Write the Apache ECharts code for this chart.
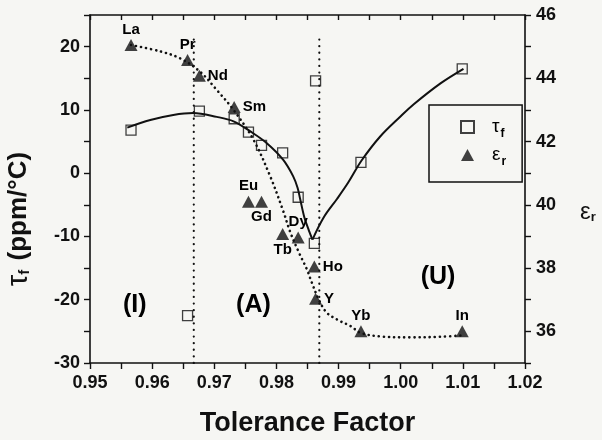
<!DOCTYPE html>
<html>
<head>
<meta charset="utf-8">
<script src="https://cdn.jsdelivr.net/npm/echarts@6/dist/echarts.min.js"></script>
<style>
  html, body { margin: 0; padding: 0; background: #f6f6f3; }
  #chart { width: 602px; height: 440px; }
</style>
</head>
<body>
<div id="chart"></div>
<script>
// A-site ions and their tolerance factors
const ions = ['La', 'Pr', 'Nd', 'Sm', 'Eu', 'Gd', 'Tb', 'Dy', 'Ho', 'Y', 'Yb', 'In'];
const toleranceFactor = [0.9566, 0.9657, 0.9676, 0.9732, 0.9755, 0.9776, 0.9810, 0.9835, 0.9861, 0.9863, 0.9936, 1.0099];
// temperature coefficient of resonant frequency (ppm/°C), left axis
const tauF = [6.8, -22.5, 9.8, 8.6, 6.5, 4.4, 3.2, -3.8, -11.1, 14.6, 1.7, 16.5];
// relative permittivity, right axis
const epsR = [45.05, 44.58, 44.08, 43.09, 40.1, 40.1, 39.08, 38.97, 38.05, 37.03, 36.0, 36.0];

// fitted trend of tau_f (two branches meeting at the cusp)
const tauFitLeftX = [0.9560, 0.9597, 0.9634, 0.9666, 0.9704, 0.9731, 0.9758, 0.9785, 0.9811, 0.9827, 0.9834, 0.9838, 0.9845, 0.9852, 0.9858];
const tauFitLeftY = [7.2, 8.4, 9.2, 9.5, 8.9, 8.2, 6.6, 4.7, 2.1, -0.5, -2.3, -4.0, -7.0, -9.0, -10.5];
const tauFitRightX = [0.9858, 0.9876, 0.9898, 0.9916, 0.9937, 0.9967, 1.0000, 1.0021, 1.0064, 1.0101];
const tauFitRightY = [-10.5, -7.0, -4.0, -1.4, 2.0, 5.8, 9.0, 10.9, 14.2, 16.5];

// fitted trend of epsilon_r
const epsFitX = [0.9566, 0.9613, 0.9645, 0.9677, 0.9704, 0.9731, 0.9763, 0.9790, 0.9811, 0.9822, 0.9836, 0.9849, 0.9857, 0.9868, 0.9881, 0.9900, 0.9919, 0.9936, 0.9967, 1.0015, 1.0064, 1.0097];
const epsFitY = [45.05, 44.85, 44.63, 44.21, 43.63, 43.00, 42.06, 40.9, 39.8, 39.15, 38.5, 37.96, 37.54, 37.01, 36.59, 36.35, 36.17, 35.95, 35.84, 35.81, 35.83, 35.87];

// phase boundaries (dotted verticals) and region names
const boundaryX = [0.9667, 0.9869];
const boundarySpan = [-30, 22];
const regionNames = ['(I)', '(A)', '(U)'];
const regionX = [0.9572, 0.9763, 1.0060];
const regionY = [-20.8, -20.8, -16.5];

// axis tick settings
const xTicks = { min: 0.95, max: 1.02, step: 0.005 };
const tauTicks = { min: -30, max: 25, step: 5 };
const epsTicks = { min: 35, max: 46, step: 1 };

const ink = '#111111';
const font = 'Liberation Sans, Arial, Helvetica, sans-serif';
const labelSide = ['top', 'top', 'right', 'right', 'top', 'bottom', 'bottom', 'top', 'right', 'right', 'top', 'top'];

const zip = (xs, ys) => xs.map((x, i) => [x, ys[i]]);

const chart = echarts.init(document.getElementById('chart'), null, { renderer: 'canvas' });

const axisFont = { fontFamily: font, fontWeight: 'bold', fontSize: 18, color: ink };
const lineOf = (w) => ({ show: true, onZero: false, lineStyle: { color: ink, width: w } });

const series = [];

boundaryX.forEach((bx) => {
  series.push({
    type: 'line', silent: true, symbol: 'none',
    data: [[bx, boundarySpan[0]], [bx, boundarySpan[1]]],
    lineStyle: { color: ink, width: 2.2, type: [0.1, 6.5], cap: 'round' },
    z: 1
  });
});

series.push({
  type: 'line', silent: true, symbol: 'none', smooth: 0.35,
  data: zip(tauFitLeftX, tauFitLeftY),
  lineStyle: { color: ink, width: 2 }, z: 2
});
series.push({
  type: 'line', silent: true, symbol: 'none', smooth: 0.35,
  data: zip(tauFitRightX, tauFitRightY),
  lineStyle: { color: ink, width: 2 }, z: 2
});
series.push({
  type: 'line', silent: true, symbol: 'none', smooth: 0.35, yAxisIndex: 1,
  data: zip(epsFitX, epsFitY),
  lineStyle: { color: ink, width: 2.6, type: [0.1, 5], cap: 'round' }, z: 2
});

series.push({
  name: 'τf', type: 'scatter', symbol: 'rect', symbolSize: 10,
  data: zip(toleranceFactor, tauF),
  itemStyle: { color: 'rgba(0,0,0,0)', borderColor: ink, borderWidth: 1.3 },
  z: 3
});

series.push({
  name: 'εr', type: 'scatter', symbol: 'triangle', symbolSize: [13, 12], yAxisIndex: 1,
  data: toleranceFactor.map((x, i) => ({
    value: [x, epsR[i]],
    label: { position: labelSide[i] }
  })),
  itemStyle: { color: ink },
  label: {
    show: true, distance: 2,
    formatter: (p) => ions[p.dataIndex],
    fontFamily: font, fontWeight: 'bold', fontSize: 15, color: '#000',
    textBorderWidth: 0, opacity: 1
  },
  z: 4
});

series.push({
  type: 'scatter', silent: true, symbolSize: 0,
  data: regionX.map((x, i) => [x, regionY[i]]),
  label: {
    show: true, position: 'inside',
    formatter: (p) => regionNames[p.dataIndex],
    fontFamily: font, fontWeight: 'bold', fontSize: 25, color: '#000',
    textBorderWidth: 0, opacity: 1
  },
  z: 2
});

const option = {
  backgroundColor: '#f6f6f3',
  animation: false,
  grid: { left: 90, right: 77, top: 15, bottom: 77, outerBoundsMode: 'none', containLabel: false },
  legend: {
    data: ['τf', 'εr'],
    orient: 'vertical',
    left: 429, top: 105,
    padding: [9, 16, 14, 31],
    itemGap: 2,
    itemWidth: 13, itemHeight: 12,
    borderColor: ink, borderWidth: 1.5,
    formatter: (name) => name === 'τf' ? '{a|τ}{b|f}' : '{a|ε}{b|r}',
    textStyle: {
      color: '#000',
      rich: {
        a: { fontFamily: font, fontSize: 19, color: '#000', padding: [0, 0, 0, 13], lineHeight: 20 },
        b: { fontFamily: font, fontSize: 12, fontWeight: 'bold', color: '#000', lineHeight: 20, padding: [14, 0, 0, 1] }
      }
    }
  },
  xAxis: [
    {
      type: 'value', position: 'bottom',
      min: xTicks.min, max: xTicks.max, interval: xTicks.step,
      name: 'Tolerance Factor', nameLocation: 'middle', nameGap: 47,
      nameTextStyle: { fontFamily: font, fontWeight: 'bold', fontSize: 27, color: ink },
      axisLine: lineOf(1.6),
      axisTick: { show: true, inside: false, length: 6, lineStyle: { color: ink, width: 1.4 } },
      splitLine: { show: false },
      axisLabel: Object.assign({}, axisFont, {
        margin: 11,
        formatter: (v) => (Math.round(v * 1000) % 10 === 0 ? v.toFixed(2) : '')
      })
    },
    {
      type: 'value', position: 'top',
      min: xTicks.min, max: xTicks.max, interval: xTicks.step,
      axisLine: lineOf(1.6),
      axisTick: { show: true, inside: true, length: 5, lineStyle: { color: ink, width: 1.4 } },
      splitLine: { show: false },
      axisLabel: { show: false }
    }
  ],
  yAxis: [
    {
      type: 'value', position: 'left',
      min: tauTicks.min, max: tauTicks.max, interval: tauTicks.step,
      name: '{t|τ}{s|f}{u| (ppm/°C)}',
      nameLocation: 'middle', nameRotate: 90, nameGap: 58,
      nameTextStyle: {
        padding: [0, 60, 0, 0],
        rich: {
          t: { fontFamily: font, fontSize: 29, color: ink, lineHeight: 26 },
          s: { fontFamily: font, fontSize: 15, fontWeight: 'bold', color: ink, verticalAlign: 'bottom', lineHeight: 26, padding: [11, 2, 0, 0] },
          u: { fontFamily: font, fontSize: 26, fontWeight: 'bold', color: ink, lineHeight: 26 }
        }
      },
      axisLine: lineOf(1.6),
      axisTick: { show: true, inside: false, length: 6, lineStyle: { color: ink, width: 1.4 } },
      splitLine: { show: false },
      axisLabel: Object.assign({}, axisFont, {
        margin: 10,
        formatter: (v) => (Math.round(v) % 10 === 0 ? String(Math.round(v)) : '')
      })
    },
    {
      type: 'value', position: 'right',
      min: epsTicks.min, max: epsTicks.max, interval: epsTicks.step,
      name: '{e|ε}{r|r}',
      nameLocation: 'middle', nameRotate: 0, nameGap: 55,
      nameTextStyle: {
        padding: [46, 0, 0, 0],
        rich: {
          e: { fontFamily: font, fontSize: 24, color: ink, lineHeight: 24 },
          r: { fontFamily: font, fontSize: 13, fontWeight: 'bold', color: ink, verticalAlign: 'bottom', lineHeight: 24, padding: [10, 0, 0, 0] }
        }
      },
      axisLine: lineOf(1.6),
      axisTick: { show: true, inside: false, length: 6, lineStyle: { color: ink, width: 1.4 } },
      splitLine: { show: false },
      axisLabel: Object.assign({}, axisFont, {
        margin: 11,
        formatter: (v) => (Math.round(v) % 2 === 0 && v > 35 ? String(Math.round(v)) : '')
      })
    }
  ],
  series: series
};

chart.setOption(option);
</script>
</body>
</html>
